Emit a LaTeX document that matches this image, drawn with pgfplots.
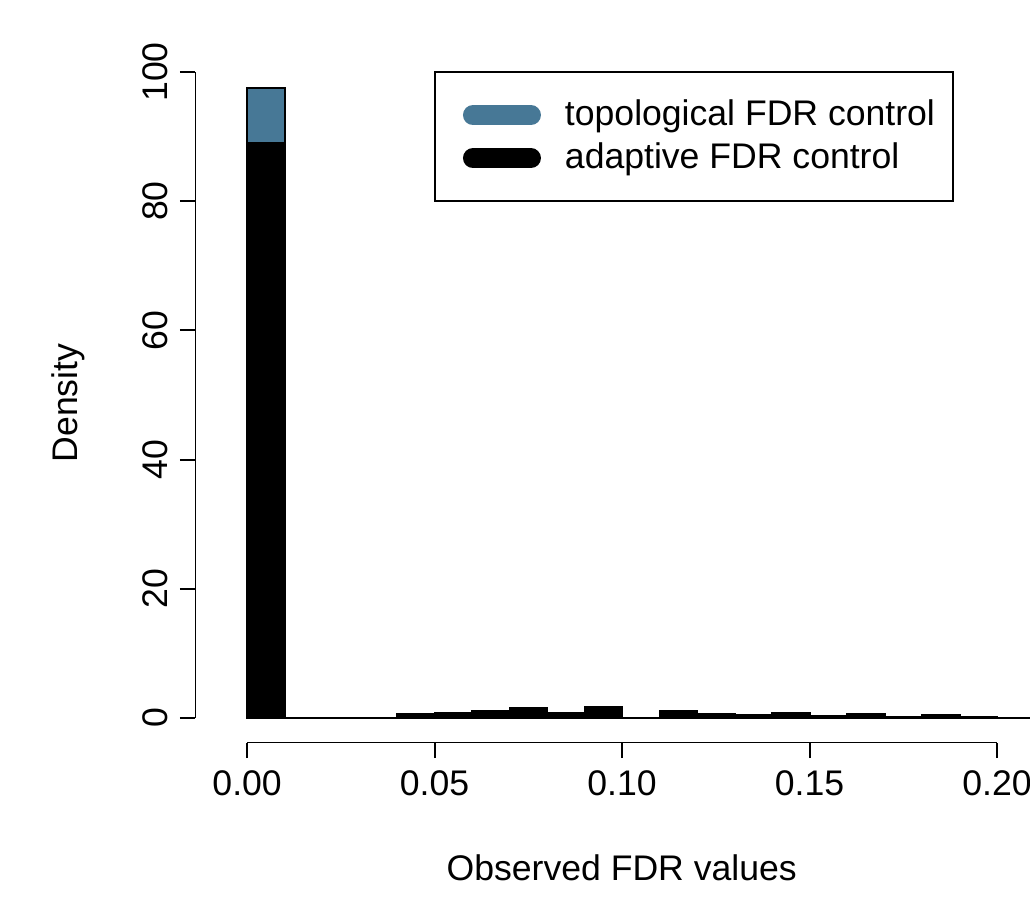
\documentclass[border=0pt]{standalone}
\usepackage{fontspec}
\setmainfont{Liberation Sans}
\usepackage{pgfplots}
\pgfplotsset{compat=1.18}
\definecolor{topo}{RGB}{71,120,150}

\pgfplotsset{
  topolegend/.style={legend image code/.code={
    \path[draw=none, fill=none] (-5bp,0bp) -- (51bp,0bp);
    \draw[line width=10bp, line cap=round, color=topo] (5bp,0bp) -- (34bp,0bp);}},
  adaptlegend/.style={legend image code/.code={
    \path[draw=none, fill=none] (-5bp,0bp) -- (51bp,0bp);
    \draw[line width=10bp, line cap=round, color=black] (5bp,0bp) -- (34bp,0bp);}},
}

\begin{document}
\fontsize{17.8bp}{21bp}\selectfont
\begin{tikzpicture}[font=\fontsize{17.8bp}{21bp}\selectfont]
\path[use as bounding box] (0,0) rectangle (515bp,455bp);
\clip (0,0) rectangle (515bp,455bp);
\begin{axis}[
    at={(97.5bp,83.5bp)}, anchor=south west,
    scale only axis,
    width=417.5bp, height=340bp,
    xmin=-0.0139, xmax=0.2088,
    ymin=-3.9, ymax=101.4,
    axis x line*=bottom, axis y line*=left,
    axis line style={draw=none},
    xtick={0,0.05,0.10,0.15,0.20},
    xticklabels={0.00,0.05,0.10,0.15,0.20},
    ytick={0,20,40,60,80,100},
    yticklabels={0,20,40,60,80,100},
    yticklabel style={rotate=90},
    tick align=outside,
    major tick length=7.5bp,
    tick style={line width=1bp, black},
    xlabel={Observed FDR values},
    ylabel={Density},
    xlabel style={at={(axis description cs:0.511,-0.184)}, anchor=center},
    ylabel style={at={(axis description cs:-0.152,0.5)}, anchor=center, rotate=0},
    legend style={at={(axis description cs:0.2862,0.988)}, anchor=north west,
        draw=black, line width=1bp, inner xsep=9bp, inner ysep=10.75bp,
        row sep=0pt,
        nodes={inner xsep=0pt, inner ysep=2bp, text height=14bp, text depth=3.5bp}},
    legend cell align=left,
]
\addplot[ybar interval, fill=topo, draw=black, line width=1bp, topolegend]
  coordinates {(0.00,97.5) (0.01,0)};
\addplot[ybar interval, fill=black, draw=black, line width=1bp, adaptlegend]
  coordinates {
    (0.00,89) (0.01,0) (0.02,0) (0.03,0) (0.04,0.6) (0.05,0.7)
    (0.06,1.0) (0.07,1.5) (0.08,0.8) (0.09,1.7) (0.10,0) (0.11,1.1)
    (0.12,0.6) (0.13,0.4) (0.14,0.8) (0.15,0.3) (0.16,0.6) (0.17,0.2)
    (0.18,0.5) (0.19,0.2) (0.20,0) (0.21,0)
  };
\legend{topological FDR control, adaptive FDR control}
\draw[line width=1bp] ({axis cs:0,0} |- {rel axis cs:0,0}) -- ({axis cs:0.2,0} |- {rel axis cs:0,0});
\draw[line width=1bp] ({rel axis cs:0,0} |- {axis cs:0,0}) -- ({rel axis cs:0,0} |- {axis cs:0,100});
\end{axis}
\end{tikzpicture}
\end{document}
